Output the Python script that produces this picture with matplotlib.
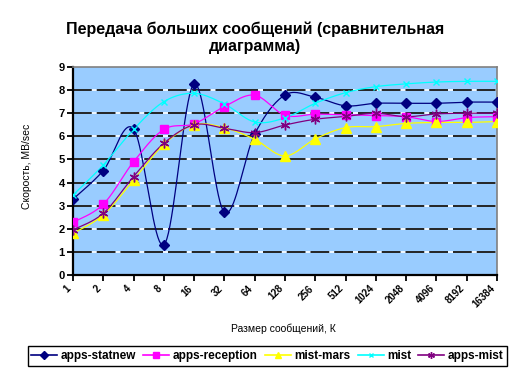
import numpy as np
import matplotlib
matplotlib.use('Agg')
import matplotlib.pyplot as plt

plt.rcParams['font.family'] = ['Liberation Sans', 'DejaVu Sans']
plt.rcParams['lines.scale_dashes'] = False

# message sizes (K) and throughput in MB/sec for each program
sizes = ['1', '2', '4', '8', '16', '32', '64', '128', '256', '512', '1024', '2048', '4096', '8192', '16384']
apps_statnew = [3.28, 4.52, 6.32, 1.3, 8.27, 2.71, 6.1, 7.79, 7.69, 7.32, 7.43, 7.43, 7.43, 7.48, 7.48]
apps_reception = [2.28, 3.06, 4.9, 6.3, 6.54, 7.29, 7.78, 6.91, 6.96, 6.93, 6.9, 6.85, 6.64, 6.81, 6.85]
mist_mars = [1.8, 2.6, 4.11, 5.65, 6.5, 6.37, 5.87, 5.15, 5.89, 6.38, 6.42, 6.56, 6.6, 6.6, 6.64]
mist = [3.46, 4.76, 6.3, 7.5, 7.86, 7.4, 6.62, 6.8, 7.43, 7.89, 8.15, 8.27, 8.35, 8.38, 8.38]
apps_mist = [1.95, 2.67, 4.26, 5.7, 6.5, 6.35, 6.16, 6.49, 6.74, 6.86, 7.0, 6.85, 6.97, 7.0, 7.0]


def smooth(y, n=20):
    # excel-like smoothed line (bezier through the points)
    y = np.asarray(y, dtype=float)
    x = np.arange(len(y), dtype=float)
    xs, ys = [], []
    for i in range(len(y) - 1):
        i0 = max(i - 1, 0)
        i3 = min(i + 2, len(y) - 1)
        p0x, p0y = x[i], y[i]
        p3x, p3y = x[i + 1], y[i + 1]
        c1x = p0x + (x[i + 1] - x[i0]) / 6.0
        c1y = p0y + (y[i + 1] - y[i0]) / 6.0
        c2x = p3x - (x[i3] - x[i]) / 6.0
        c2y = p3y - (y[i3] - y[i]) / 6.0
        t = np.linspace(0, 1, n, endpoint=(i == len(y) - 2))
        b0 = (1 - t) ** 3
        b1 = 3 * (1 - t) ** 2 * t
        b2 = 3 * (1 - t) * t ** 2
        b3 = t ** 3
        xs.append(b0 * p0x + b1 * c1x + b2 * c2x + b3 * p3x)
        ys.append(b0 * p0y + b1 * c1y + b2 * c2y + b3 * p3y)
    return np.concatenate(xs), np.concatenate(ys)


fig = plt.figure(figsize=(5.11, 3.76), dpi=100)
ax = fig.add_axes([73 / 511, 1 - 275 / 376, (497 - 73) / 511, (275 - 67) / 376])
ax.set_facecolor('#99CCFF')

# gridlines: black with small white gaps
for g in range(1, 9):
    ax.axhline(g, color='white', lw=1.2, zorder=1)
    ax.axhline(g, color='black', lw=1.2, dashes=(13.5, 3.6), zorder=1.5)

series = [
    ('apps-statnew', apps_statnew, '#000080', 'D', 5.5, 1),
    ('apps-reception', apps_reception, '#FF00FF', 's', 6, 1),
    ('mist-mars', mist_mars, '#FFFF00', '^', 6.5, 1),
    ('mist', mist, '#00FFFF', 'x', 5, 1.0),
    ('apps-mist', apps_mist, '#800080', (6, 2, 0), 7, 1.0),
]
x = np.arange(len(sizes))
for name, vals, col, mk, ms, mew in series:
    sx, sy = smooth(vals)
    ax.plot(sx, sy, color=col, lw=0.9, zorder=3)
    ax.plot(x, vals, linestyle='none', marker=mk, ms=ms, color=col,
            markeredgecolor=col, mew=mew, zorder=4)
    # legend proxy
    ax.plot([], [], color=col, lw=1.2, marker=mk, ms=ms * 0.7, mew=mew,
            markeredgecolor=col, label=name)

ax.set_xlim(0, len(sizes) - 1)
ax.set_ylim(0, 9)
ax.set_xticks(x)
ax.set_xticklabels(sizes, rotation=45, ha='right', fontsize=7, fontweight='bold')
ax.set_yticks(range(10))
ax.set_yticklabels([str(v) for v in range(10)], fontsize=8, fontweight='bold')
ax.tick_params(axis='both', direction='out', length=4, width=1.3, color='black', pad=2)

ax.spines['left'].set_color('black')
ax.spines['left'].set_linewidth(1.6)
ax.spines['bottom'].set_color('black')
ax.spines['bottom'].set_linewidth(1.6)
ax.spines['top'].set_color('#808080')
ax.spines['right'].set_color('#808080')
ax.spines['top'].set_linewidth(1.2)
ax.spines['right'].set_linewidth(1.2)

fig.text(255 / 511, 1 - 38 / 376, 'Передача больших сообщений (сравнительная\nдиаграмма)',
         ha='center', va='center', fontsize=11.5, fontweight='bold', linespacing=1.15)
fig.text(27 / 511, 1 - 166 / 376, 'Скорость, MB/sec', rotation=90,
         ha='center', va='center', fontsize=7.5)
fig.text(283 / 511, 1 - 329 / 376, 'Размер сообщений, К', ha='center', va='center', fontsize=7.5)

leg = fig.legend(loc='center', bbox_to_anchor=(267.5 / 511, 1 - 356 / 376), ncol=5,
                 fancybox=False, edgecolor='black', framealpha=1,
                 prop={'size': 8.5, 'weight': 'bold'}, handlelength=2.2,
                 handletextpad=0.3, columnspacing=0.6, borderpad=0.3)
leg.get_frame().set_linewidth(1.0)

plt.savefig('out.png', dpi=100)
